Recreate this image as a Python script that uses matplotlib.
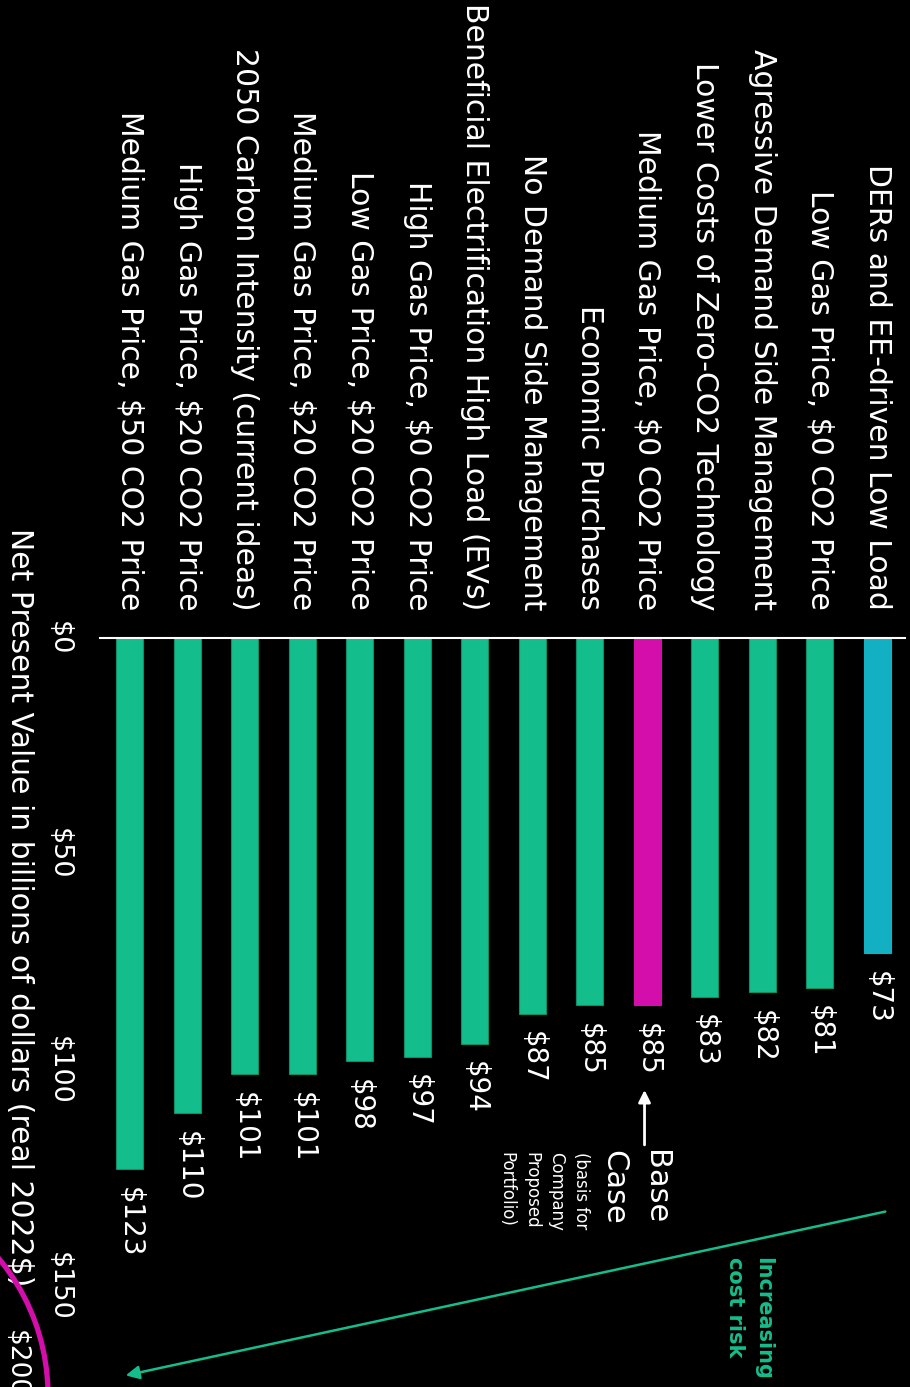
import numpy as np
import matplotlib
matplotlib.use("Agg")
import matplotlib.pyplot as plt
from matplotlib.patches import Arc, FancyArrowPatch

# scenarios, listed from lowest to highest cost
scenarios = [
    "DERs and EE-driven Low Load",
    "Low Gas Price, $0 CO2 Price",
    "Agressive Demand Side Management",
    "Lower Costs of Zero-CO2 Technology",
    "Medium Gas Price, $0 CO2 Price",
    "Economic Purchases",
    "No Demand Side Management",
    "Beneficial Electrification High Load (EVs)",
    "High Gas Price, $0 CO2 Price",
    "Low Gas Price, $20 CO2 Price",
    "Medium Gas Price, $20 CO2 Price",
    "2050 Carbon Intensity (current ideas)",
    "High Gas Price, $20 CO2 Price",
    "Medium Gas Price, $50 CO2 Price",
]
npv = [73, 81, 82, 83, 85, 85, 87, 94, 97, 98, 101, 101, 110, 123]
value_ticks = [0, 50, 100, 150]
tick_labels = ["$0", "$50", "$100", "$150"]

GREEN = "#14BE8C"
TEAL = "#12B0C2"
MAGENTA = "#D40EAA"
BASE = "Medium Gas Price, $0 CO2 Price"

colors = []
for i, s in enumerate(scenarios):
    if i == 0:
        colors.append(TEAL)
    elif s == BASE:
        colors.append(MAGENTA)
    else:
        colors.append(GREEN)

n = len(scenarios)
pos = np.arange(n)[::-1]  # first scenario ends up on the right

W, H = 910, 1387
fig = plt.figure(figsize=(W / 100, H / 100), dpi=100, facecolor="black")
ax = fig.add_axes([100 / W, 0, 805 / W, 749 / H], facecolor="black")

ax.bar(pos, npv, width=0.47, color=colors, edgecolor=[
    "#0E8F68" if c == GREEN else c for c in colors], linewidth=0.8)

for x, v in zip(pos, npv):
    ax.annotate(f"${v}", xy=(x, v), xytext=(0, -12.5), textcoords="offset points",
                rotation=-90, ha="center", va="top", color="white", fontsize=20)

ax.set_xlim(-0.52, n - 0.52)
ax.set_ylim(173.4, 0)

ax.xaxis.tick_top()
ax.set_xticks(pos)
ax.set_xticklabels(scenarios)
ax.tick_params(axis="x", length=0, pad=20, labelsize=21.5, labelrotation=-90,
               colors="white")
ax.set_yticks(value_ticks)
ax.set_yticklabels(tick_labels)
ax.tick_params(axis="y", length=0, pad=20, labelsize=19.5, labelrotation=-90,
               colors="white")
for lbl in ax.get_yticklabels():
    lbl.set_va("center")

for side in ["left", "right", "bottom"]:
    ax.spines[side].set_visible(False)
ax.spines["top"].set_color("white")
ax.spines["top"].set_linewidth(1.5)

ax.set_ylabel("Net Present Value in billions of dollars (real 2022$)",
              rotation=-90, fontsize=21.5, color="white", va="center", ha="center")
ax.yaxis.set_label_coords(-80 / 805, (H - 907) / 749)

# base case callout
base_x = pos[scenarios.index(BASE)]
ax.annotate("", xy=(base_x - 0.05, 104), xytext=(base_x - 0.05, 118),
            arrowprops=dict(arrowstyle="-|>", color="white", lw=2,
                            mutation_scale=18), annotation_clip=False)
ax.text(base_x - 0.22, 118.6, "Base\nCase", rotation=-90, ha="center", va="top",
        color="white", fontsize=22, linespacing=1.55, multialignment="left")
ax.text(base_x - 1.80, 119, "(basis for\nCompany\nProposed\nPortfolio)",
        rotation=-90, ha="center", va="top", color="white", fontsize=12,
        linespacing=1.5, multialignment="left")

# cost-risk trend arrow
inch = fig.dpi_scale_trans
fig.add_artist(FancyArrowPatch(posA=(8.88, (H - 1211) / 100),
                               posB=(1.23, (H - 1376) / 100), transform=inch,
                               arrowstyle="-|>", mutation_scale=20, lw=1.8,
                               color=GREEN))
fig.text(749 / W, 1 - 1257 / H, "Increasing\ncost risk", rotation=-90,
         ha="center", va="top", color=GREEN, fontsize=15, fontweight="bold",
         linespacing=1.5, multialignment="left")

# fragment of neighbouring slide content
fig.add_artist(Arc((-1.66, -0.08), 4.28, 4.28, theta1=-10, theta2=50,
                   transform=inch, color=MAGENTA, lw=3.8))
fig.text(3 / W, 1 - 1330 / H, "$200", rotation=-90, ha="left", va="top",
         color="white", fontsize=19)

fig.savefig("out.png", dpi=100, facecolor="black")
